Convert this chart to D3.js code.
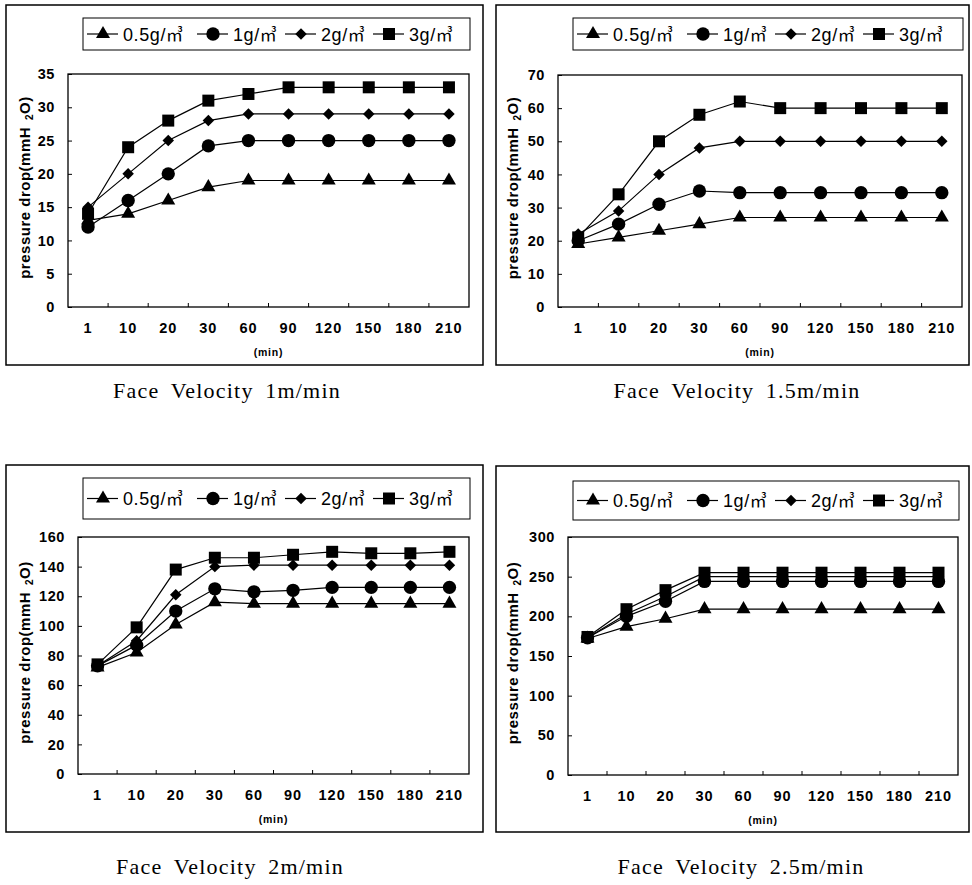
<!DOCTYPE html>
<html>
<head>
<meta charset="utf-8">
<script src="https://cdn.jsdelivr.net/npm/d3@7"></script>
<style>
  body { margin: 0; background: #fff; }
  svg { display: block; }
</style>
</head>
<body>
<script>
// time after start (min) - categories on the x axis
var times = ["1", "10", "20", "30", "60", "90", "120", "150", "180", "210"];
var dustLoads = ["0.5g/\u33A5", "1g/\u33A5", "2g/\u33A5", "3g/\u33A5"];
var captions = ["Face Velocity 1m/min", "Face Velocity 1.5m/min", "Face Velocity 2m/min", "Face Velocity 2.5m/min"];

// pressure drop (mmH2O), one row per dust load
var fv1 = [
  [13, 14, 16, 18, 19, 19, 19, 19, 19, 19],
  [12, 16, 20, 24.2, 25, 25, 25, 25, 25, 25],
  [15, 20, 25, 28, 29, 29, 29, 29, 29, 29],
  [14, 24, 28, 31, 32, 33, 33, 33, 33, 33]
];
var fv15 = [
  [19, 21, 23, 25, 27, 27, 27, 27, 27, 27],
  [20, 25, 31, 35, 34.5, 34.5, 34.5, 34.5, 34.5, 34.5],
  [22, 29, 40, 48, 50, 50, 50, 50, 50, 50],
  [21, 34, 50, 58, 62, 60, 60, 60, 60, 60]
];
var fv2 = [
  [72, 82, 101, 116, 115, 115, 115, 115, 115, 115],
  [73, 87, 110, 125, 123, 124, 126, 126, 126, 126],
  [73, 90, 121, 140, 141, 141, 141, 141, 141, 141],
  [74, 99, 138, 146, 146, 148, 150, 149, 149, 150]
];
var fv25 = [
  [172, 187, 197, 209, 209, 209, 209, 209, 209, 209],
  [173, 200, 219, 244, 244, 244, 244, 244, 244, 244],
  [173, 203, 225, 250, 250, 250, 250, 250, 250, 250],
  [174, 209, 233, 255, 255, 255, 255, 255, 255, 255]
];
var allData = [fv1, fv15, fv2, fv25];
var yMaxes = [35, 70, 160, 300];
var yStepSizes = [5, 10, 20, 50];

// layout of each panel (pixels)
var panels = [
  {frame: [6, 5, 483, 365], legend: [83, 18, 470, 50], plot: [68, 74, 469, 307], titleX: 25, cap: [227, 398]},
  {frame: [496, 5, 969, 365], legend: [573, 18, 963, 50], plot: [558, 75, 962, 307], titleX: 513, cap: [737, 398]},
  {frame: [6, 465, 483, 832], legend: [83, 478, 470, 519], plot: [78, 537, 469, 774], titleX: 25, cap: [230, 874]},
  {frame: [496, 466, 969, 832], legend: [573, 481, 959, 520], plot: [568, 537, 958, 775], titleX: 513, cap: [741, 874]}
];
var legendOffsets = [4, 114, 202, 290];

var symbols = [
  {type: d3.symbolTriangle, size: 85, rot: 0},
  {type: d3.symbolCircle, size: 140, rot: 0},
  {type: d3.symbolSquare, size: 66, rot: 45},
  {type: d3.symbolSquare, size: 144, rot: 0}
];

var svg = d3.select("body").append("svg")
  .attr("width", 972)
  .attr("height", 885);

var sansFont = "'Liberation Sans', Arial, Helvetica, sans-serif";

panels.forEach(function(p, pi) {
  var data = allData[pi];
  var g = svg.append("g");

  // outer frame
  g.append("rect")
    .attr("x", p.frame[0]).attr("y", p.frame[1])
    .attr("width", p.frame[2] - p.frame[0])
    .attr("height", p.frame[3] - p.frame[1])
    .attr("fill", "none").attr("stroke", "#000").attr("stroke-width", 1.5);

  // scales
  var x = d3.scaleBand().domain(times).range([p.plot[0], p.plot[2]]).padding(0);
  var y = d3.scaleLinear().domain([0, yMaxes[pi]]).range([p.plot[3], p.plot[1]]);

  // plot area box
  g.append("rect")
    .attr("x", p.plot[0]).attr("y", p.plot[1])
    .attr("width", p.plot[2] - p.plot[0])
    .attr("height", p.plot[3] - p.plot[1])
    .attr("fill", "none").attr("stroke", "#000").attr("stroke-width", 1.3);

  // y axis
  var yAxis = g.append("g")
    .attr("transform", "translate(" + p.plot[0] + ",0)")
    .call(d3.axisLeft(y)
      .tickValues(d3.range(0, yMaxes[pi] + 1, yStepSizes[pi]))
      .tickSizeInner(-4).tickSizeOuter(0).tickPadding(13));
  yAxis.select(".domain").remove();
  yAxis.selectAll("text")
    .style("font-family", sansFont).style("font-size", "14.5px").style("font-weight", "bold")
    .style("letter-spacing", "0.6px")
    .attr("fill", "#000");
  yAxis.selectAll("line").attr("stroke", "#000");

  // x axis: labels at band centres, tick marks at band edges
  var xAxis = g.append("g")
    .attr("transform", "translate(0," + p.plot[3] + ")")
    .call(d3.axisBottom(x).tickSize(0).tickPadding(16));
  xAxis.select(".domain").remove();
  xAxis.selectAll("text")
    .style("font-family", sansFont).style("font-size", "14.5px").style("font-weight", "bold")
    .style("letter-spacing", "1px")
    .attr("fill", "#000");
  g.selectAll(".xtick")
    .data(times.slice(1))
    .enter().append("line")
    .attr("x1", function(d) { return x(d); })
    .attr("x2", function(d) { return x(d); })
    .attr("y1", p.plot[3])
    .attr("y2", p.plot[3] - 4)
    .attr("stroke", "#000");

  g.append("text")
    .attr("x", (p.plot[0] + p.plot[2]) / 2)
    .attr("y", p.plot[3] + 49)
    .attr("text-anchor", "middle")
    .style("font-family", sansFont).style("font-size", "10.5px").style("font-weight", "bold")
    .style("letter-spacing", "0.8px")
    .text("(min)");

  // y axis title
  var yt = g.append("text")
    .attr("transform", "translate(" + (p.titleX + 5) + "," + ((p.plot[1] + p.plot[3]) / 2 - 3) + ") rotate(-90)")
    .attr("text-anchor", "middle")
    .style("font-family", sansFont).style("font-size", "15px").style("font-weight", "bold")
    .style("letter-spacing", "0.5px");
  yt.append("tspan").text("pressure drop(mmH");
  yt.append("tspan").attr("dx", 7).attr("dy", 3).style("font-size", "10px").text("2");
  yt.append("tspan").attr("dy", -3).text("O)");

  // series lines and markers
  var line = d3.line()
    .x(function(d, i) { return x(times[i]) + x.bandwidth() / 2; })
    .y(function(d) { return y(d); });

  data.forEach(function(series) {
    g.append("path")
      .datum(series)
      .attr("fill", "none")
      .attr("stroke", "#000")
      .attr("stroke-width", 1.2)
      .attr("d", line);
  });
  data.forEach(function(series, si) {
    var s = symbols[si];
    g.selectAll(".m" + si)
      .data(series)
      .enter().append("path")
      .attr("d", d3.symbol().type(s.type).size(s.size)())
      .attr("transform", function(d, i) {
        return "translate(" + (x(times[i]) + x.bandwidth() / 2) + "," + y(d) + ") rotate(" + s.rot + ")";
      })
      .attr("fill", "#000");
  });

  // legend
  var lg = g.append("g");
  lg.append("rect")
    .attr("x", p.legend[0]).attr("y", p.legend[1])
    .attr("width", p.legend[2] - p.legend[0])
    .attr("height", p.legend[3] - p.legend[1])
    .attr("fill", "none").attr("stroke", "#000").attr("stroke-width", 1);
  var cy = (p.legend[1] + p.legend[3]) / 2;
  dustLoads.forEach(function(name, li) {
    var x0 = p.legend[0] + legendOffsets[li];
    lg.append("line")
      .attr("x1", x0).attr("x2", x0 + 31)
      .attr("y1", cy).attr("y2", cy)
      .attr("stroke", "#000").attr("stroke-width", 1.2);
    var s = symbols[li];
    lg.append("path")
      .attr("d", d3.symbol().type(s.type).size(s.size)())
      .attr("transform", "translate(" + (x0 + 16) + "," + cy + ") rotate(" + s.rot + ")")
      .attr("fill", "#000");
    var t = lg.append("text")
      .attr("x", x0 + 36)
      .attr("y", cy + 6.5)
      .style("font-family", sansFont).style("font-size", "18px")
      .style("letter-spacing", "0.6px");
    t.append("tspan").text(name.slice(0, -1));
    t.append("tspan").style("font-family", "'Noto Sans CJK KR', sans-serif").style("font-size", "17px")
      .text(name.slice(-1));
  });

  // caption below the panel
  svg.append("text")
    .attr("x", p.cap[0])
    .attr("y", p.cap[1])
    .attr("text-anchor", "middle")
    .style("font-family", "'Liberation Serif', 'Times New Roman', serif")
    .style("font-size", "22px")
    .style("letter-spacing", "1.2px")
    .style("word-spacing", "5px")
    .text(captions[pi]);
});
</script>
</body>
</html>
